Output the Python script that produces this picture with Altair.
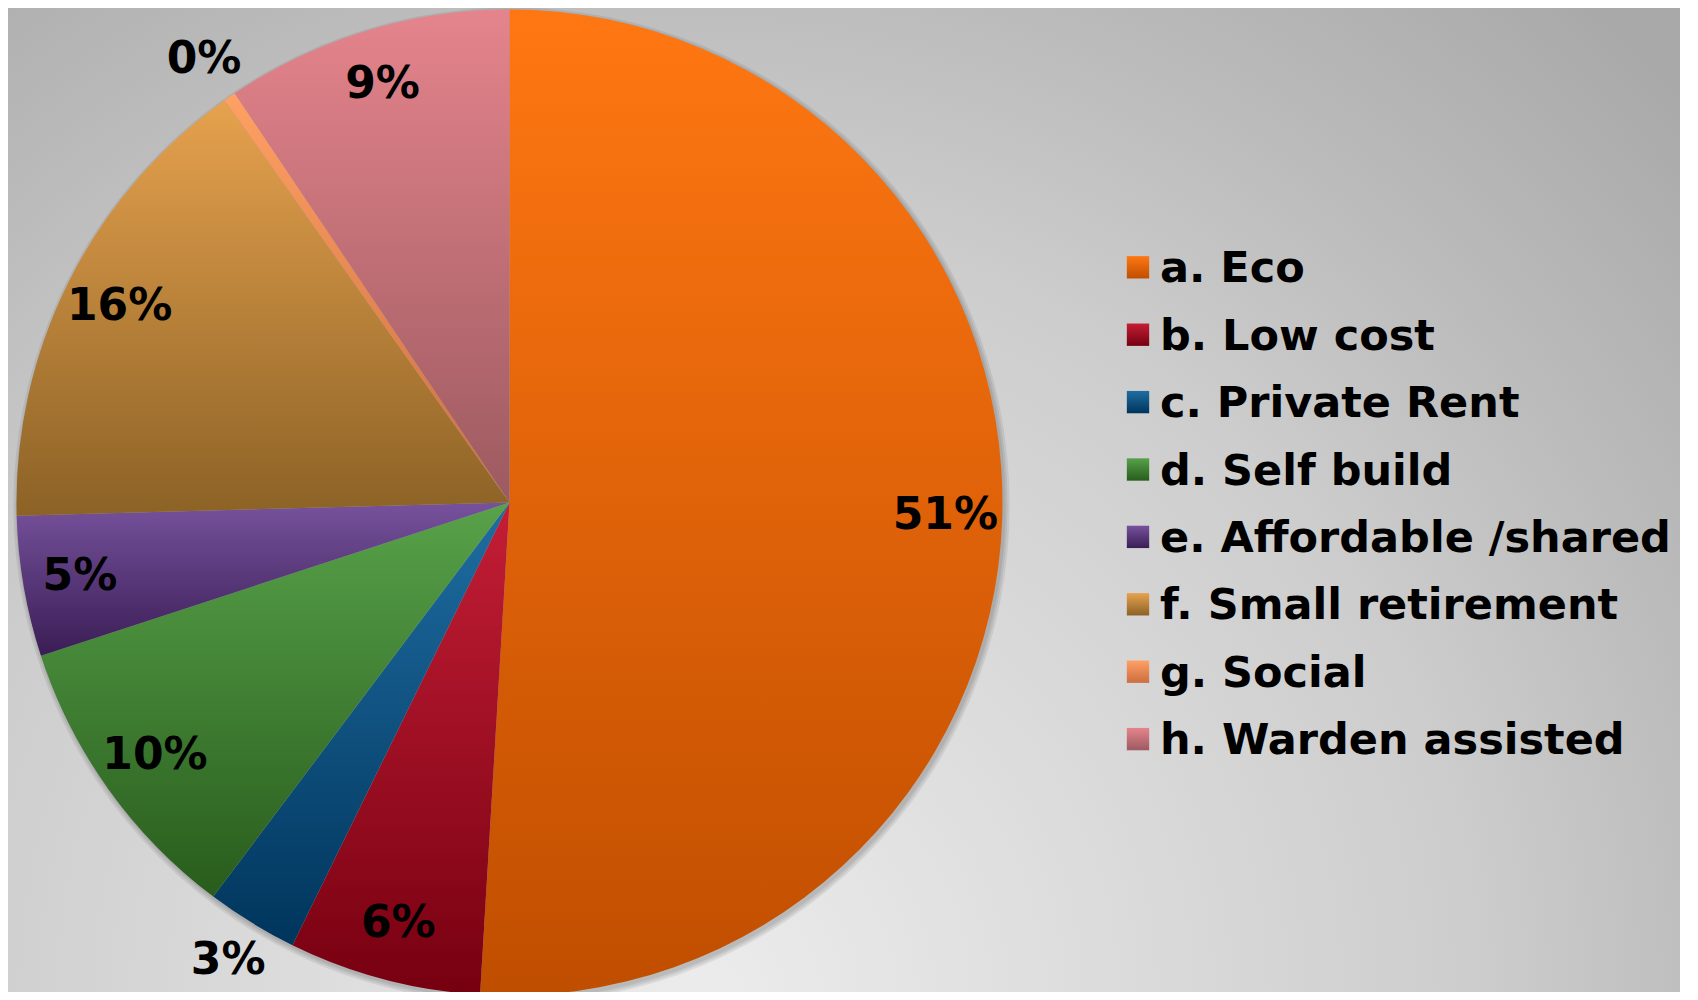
import altair as alt
import pandas as pd

# ---- data ----
categories = [
    "a. Eco",
    "b. Low cost",
    "c. Private Rent",
    "d. Self build",
    "e. Affordable /shared",
    "f. Small retirement",
    "g. Social",
    "h. Warden assisted",
]
values = [50.9, 6.3, 3.0, 9.7, 4.6, 15.6, 0.4, 9.4]
color_top = ["#ff7712", "#c41e36", "#1f6da2", "#58a24a", "#76529c", "#e6a24e", "#ffa064", "#e5848c"]
color_bottom = ["#c04e00", "#760010", "#00355c", "#285c1c", "#3a1d55", "#8c6226", "#cc6e40", "#9c5a60"]

# ---- layout ----
W, H = 1672, 984
CX, CY, R = 501.5, 494.5, 493
FONT = "DejaVu Sans"
total = sum(values)

df = pd.DataFrame({"category": categories, "value": values, "order": list(range(len(categories)))})

theta_scale = alt.Scale(domain=[0, total], range=[0, 6.283185307179586])

base = (
    alt.Chart(df)
    .transform_window(cum="sum(value)", sort=[alt.SortField("order")], frame=[None, 0])
    .transform_calculate(
        start="datum.cum - datum.value",
        mid="datum.cum - datum.value / 2",
        label=f"format(datum.value / {total}, '.0%')",
        lr="datum.value < 4 ? 538 : 436",
    )
)

layers = []

# background radial gradient
bg_grad = alt.RadialGradient(
    gradient="radial",
    stops=[
        alt.GradientStop(color="#ececec", offset=0),
        alt.GradientStop(color="#e4e4e4", offset=0.12),
        alt.GradientStop(color="#cdcdcd", offset=0.46),
        alt.GradientStop(color="#bbbbbb", offset=0.62),
        alt.GradientStop(color="#a9a9a9", offset=0.80),
        alt.GradientStop(color="#a6a6a6", offset=1),
    ],
    x1=692 / W, y1=992 / W, r1=0,
    x2=692 / W, y2=992 / W, r2=1.0,
)
one = alt.Data(values=[{"k": 1}])
layers.append(
    alt.Chart(one).mark_rect(fill=bg_grad).encode(
        x=alt.value(0), x2=alt.value(W), y=alt.value(0), y2=alt.value(W)
    )
)

# soft shadow
for k in [1, 3, 5]:
    layers.append(
        alt.Chart(one)
        .mark_arc(color="black", opacity=0.07, outerRadius=R + k, theta=0, theta2=6.2832)
        .encode(x=alt.value(CX + 2), y=alt.value(CY + 3))
    )

# slices
for i, c in enumerate(categories):
    grad = alt.LinearGradient(
        gradient="linear",
        stops=[alt.GradientStop(color=color_top[i], offset=0), alt.GradientStop(color=color_bottom[i], offset=1)],
        x1=0, x2=0, y1=0, y2=1,
    )
    layers.append(
        base.transform_filter(alt.datum.category == c)
        .mark_arc(fill=grad, outerRadius=R)
        .encode(
            theta=alt.Theta("start:Q", scale=theta_scale),
            theta2="cum:Q",
            x=alt.value(CX),
            y=alt.value(CY),
        )
    )

# slice labels
layers.append(
    base.mark_text(font=FONT, fontSize=44, fontWeight="bold", color="black", align="center", baseline="middle")
    .encode(
        theta=alt.Theta("mid:Q", scale=theta_scale),
        radius=alt.Radius("lr:Q", scale=None),
        text="label:N",
        x=alt.value(CX),
        y=alt.value(CY),
    )
)

# legend
leg_y = alt.Y(
    "category:N",
    scale=alt.Scale(type="point", domain=categories, range=[274.3, 274.3 + 67.4 * 7], padding=0),
    axis=None,
)
for i, c in enumerate(categories):
    grad = alt.LinearGradient(
        gradient="linear",
        stops=[alt.GradientStop(color=color_top[i], offset=0), alt.GradientStop(color=color_bottom[i], offset=1)],
        x1=0, x2=0, y1=0, y2=1,
    )
    layers.append(
        alt.Chart(df)
        .transform_filter(alt.datum.category == c)
        .mark_square(fill=grad, filled=True, opacity=1, size=500, yOffset=-15)
        .encode(y=leg_y, x=alt.value(1130))
    )

layers.append(
    alt.Chart(df)
    .mark_text(font=FONT, fontSize=43, fontWeight="bold", color="black", align="left", baseline="alphabetic")
    .encode(y=leg_y, x=alt.value(1152), text="category:N")
)

chart = (
    alt.layer(*layers)
    .properties(width=W, height=H, padding=0, autosize=alt.AutoSizeParams(type="none"))
    .configure_view(strokeWidth=0)
)

chart.save("out.html", embed_options={"renderer": "svg", "actions": False})
